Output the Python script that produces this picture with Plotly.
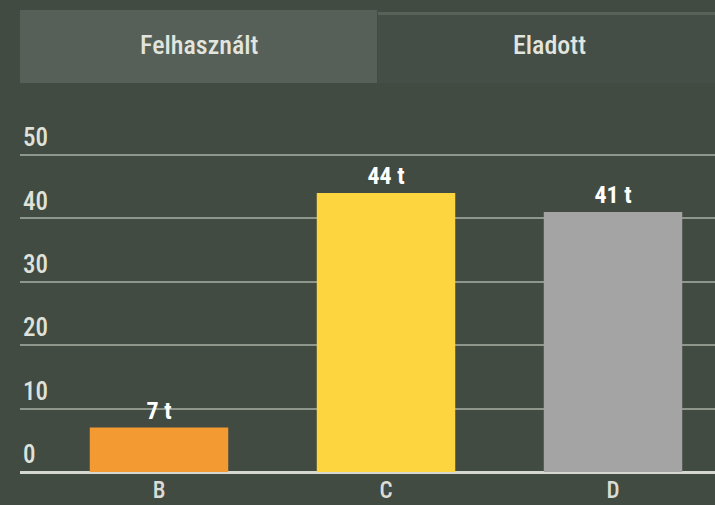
import plotly.graph_objects as go

categories = ["B", "C", "D"]
values = [7, 44, 41]
bar_colors = ["#f39a33", "#fdd53e", "#a4a4a4"]
tab_labels = ["Felhasznált", "Eladott"]
y_ticks = [0, 10, 20, 30, 40, 50]

BG = "#414b42"
FONT = "Liberation Sans Narrow, Roboto Condensed, DejaVu Sans Condensed, Roboto, sans-serif"

W, H = 715, 505
L, R, T, B = 20, 0, 100, 31
pw, ph = W - L - R, H - T - B

def px(x):
    return (x - L) / pw

def py(y):
    return (H - B - y) / ph

fig = go.Figure()
fig.add_trace(go.Bar(
    x=categories, y=values,
    marker=dict(color=bar_colors, line=dict(width=0)),
    width=0.61,
    text=[f"{v} t" for v in values],
    textposition="outside",
    textfont=dict(family=FONT, size=24, color="#ffffff", weight="bold"),
    cliponaxis=False,
    hoverinfo="skip",
))

shapes = [
    dict(type="rect", xref="paper", yref="paper", x0=px(20), x1=px(377), y0=py(83), y1=py(10),
         fillcolor="#566058", line=dict(width=0), layer="below"),
    dict(type="rect", xref="paper", yref="paper", x0=px(378), x1=px(715), y0=py(83), y1=py(12),
         fillcolor="#444e46", line=dict(width=0), layer="below"),
    dict(type="rect", xref="paper", yref="paper", x0=px(378), x1=px(715), y0=py(15), y1=py(12),
         fillcolor="#586259", line=dict(width=0), layer="below"),
]
annotations = [
    dict(text=tab_labels[0], xref="paper", yref="paper", x=px(199), y=py(45), showarrow=False,
         font=dict(family=FONT, size=26, color="#e2e5de", weight=500), xanchor="center", yanchor="middle"),
    dict(text=tab_labels[1], xref="paper", yref="paper", x=px(549), y=py(45), showarrow=False,
         font=dict(family=FONT, size=26, color="#e2e5de", weight=500), xanchor="center", yanchor="middle"),
]

scale = 63.4 / 10.0  # px per unit
y0 = -(H - B - 472) / scale
y1 = y0 + ph / scale
x0 = (L - 159) / 227.0
x1 = (W - 159) / 227.0

fig.update_layout(
    width=W, height=H,
    margin=dict(l=L, r=R, t=T, b=B, autoexpand=False),
    paper_bgcolor=BG, plot_bgcolor=BG,
    showlegend=False,
    shapes=shapes, annotations=annotations,
    xaxis=dict(range=[x0, x1], showgrid=False, zeroline=False, showline=False, automargin=False,
               tickfont=dict(family=FONT, size=23, color="#dadcd5", weight=500), ticks="",
               ticklabelstandoff=0, fixedrange=True),
    yaxis=dict(range=[y0, y1], tickvals=y_ticks, ticktext=[str(t) for t in y_ticks], automargin=False,
               showgrid=True, gridcolor="#8f968c", gridwidth=1.5,
               zeroline=True, zerolinecolor="#d5d8d0", zerolinewidth=3,
               ticklabelposition="inside top", ticks="",
               tickfont=dict(family=FONT, size=25, color="#dfe2db", weight=500), fixedrange=True),
)

fig.write_html(
    "out.html",
    config={"displayModeBar": False},
    post_script="document.body.style.margin='0';document.body.style.background='" + BG + "';",
)
